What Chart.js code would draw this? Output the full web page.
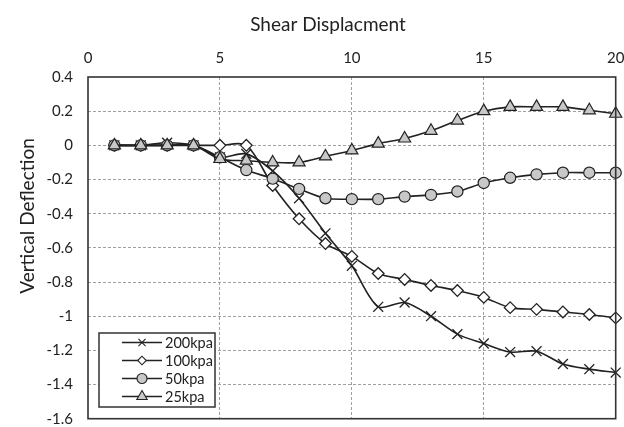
<!DOCTYPE html>
<html>
<head>
<meta charset="utf-8">
<script src="https://cdn.jsdelivr.net/npm/chart.js@4/dist/chart.umd.min.js"></script>
<style>
  html, body { margin: 0; padding: 0; background: #fff; }
  #wrap { width: 624px; height: 427px; }
</style>
</head>
<body>
<div id="wrap"><canvas id="c" width="624" height="427"></canvas></div>
<script>
// Shear displacement steps
const displacement = [1, 2, 3, 4, 5, 6, 7, 8, 9, 10, 11, 12, 13, 14, 15, 16, 17, 18, 19, 20];

// Vertical deflection for each normal stress
const kpa200 = [0, 0, 0.015, 0, -0.07, -0.05, -0.15, -0.31, -0.515, -0.705, -0.945, -0.92, -1.0, -1.105, -1.16, -1.21, -1.205, -1.28, -1.31, -1.33];
const kpa100 = [0, 0, 0, 0, 0, 0, -0.235, -0.43, -0.575, -0.65, -0.75, -0.785, -0.82, -0.85, -0.89, -0.95, -0.96, -0.975, -0.99, -1.01];
const kpa50  = [0, 0, 0, 0, -0.07, -0.145, -0.195, -0.255, -0.31, -0.315, -0.315, -0.30, -0.29, -0.27, -0.22, -0.19, -0.17, -0.16, -0.16, -0.16];
const kpa25  = [0, 0, 0, 0, -0.08, -0.09, -0.10, -0.10, -0.065, -0.03, 0.01, 0.04, 0.085, 0.145, 0.20, 0.225, 0.225, 0.225, 0.205, 0.185];

const seriesNames = ['200kpa', '100kpa', '50kpa', '25kpa'];
const xTicks = [0, 5, 10, 15, 20];
const yTicks = [0.4, 0.2, 0, -0.2, -0.4, -0.6, -0.8, -1, -1.2, -1.4, -1.6];

const FONT = 'Lato, "Open Sans", sans-serif';
const INK = '#222';
const GREY_FILL = '#c8c8c8';

const pts = arr => arr.map((v, i) => ({ x: displacement[i], y: v }));

const styles = [
  { pointStyle: 'crossRot', radius: 7, legendRadius: 5, bg: INK, lw: 1.3 },
  { pointStyle: 'rectRot', radius: 5.8, legendRadius: 4.3, bg: '#fff', lw: 1.3 },
  { pointStyle: 'circle', radius: 5.6, legendRadius: 5, bg: GREY_FILL, lw: 1.2 },
  { pointStyle: 'triangle', radius: 7, legendRadius: 6, bg: GREY_FILL, lw: 1.2 }
];
const values = [kpa200, kpa100, kpa50, kpa25];

const datasets = values.map((v, i) => ({
  label: seriesNames[i],
  data: pts(v),
  borderColor: INK,
  borderWidth: 1.6,
  tension: 0.3,
  pointStyle: styles[i].pointStyle,
  pointRadius: styles[i].radius,
  pointHoverRadius: styles[i].radius,
  pointBackgroundColor: styles[i].bg,
  pointBorderColor: INK,
  pointBorderWidth: styles[i].lw,
  order: 4 - i,
  clip: false
}));

// Frame, axis titles and the boxed legend in the lower-left corner
const decorations = {
  id: 'decorations',
  afterDatasetsDraw(chart) {
    const { ctx, chartArea: a } = chart;
    ctx.save();
    ctx.strokeStyle = '#333';
    ctx.lineWidth = 1.6;
    ctx.strokeRect(a.left, a.top, a.right - a.left, a.bottom - a.top);

    // axis titles
    ctx.fillStyle = '#222';
    ctx.font = '19px ' + FONT;
    ctx.textAlign = 'center';
    ctx.textBaseline = 'middle';
    ctx.fillText('Shear Displacment', 328, 25);
    ctx.save();
    ctx.translate(28, 216);
    ctx.rotate(-Math.PI / 2);
    ctx.fillText('Vertical Deflection', 0, 0);
    ctx.restore();

    // legend
    const bx = 99, by = 333, bw = 116, bh = 74;
    ctx.fillStyle = '#fff';
    ctx.fillRect(bx, by, bw, bh);
    ctx.strokeStyle = '#333';
    ctx.lineWidth = 1.5;
    ctx.strokeRect(bx, by, bw, bh);
    seriesNames.forEach((name, i) => {
      const y = by + 9.5 + i * 18;
      ctx.strokeStyle = INK;
      ctx.lineWidth = 1.4;
      ctx.beginPath();
      ctx.moveTo(122, y);
      ctx.lineTo(162, y);
      ctx.stroke();
      ctx.fillStyle = styles[i].bg;
      ctx.strokeStyle = INK;
      ctx.lineWidth = 1.1;
      Chart.helpers.drawPoint(ctx, {
        pointStyle: styles[i].pointStyle,
        radius: styles[i].legendRadius,
        rotation: 0,
        borderWidth: 1.1
      }, 142, y);
      ctx.fillStyle = '#222';
      ctx.font = '14.5px ' + FONT;
      ctx.textAlign = 'left';
      ctx.textBaseline = 'middle';
      ctx.fillText(name, 165, y + 1);
    });
    ctx.restore();
  }
};

new Chart(document.getElementById('c'), {
  type: 'line',
  data: { datasets },
  options: {
    responsive: false,
    animation: false,
    devicePixelRatio: 1,
    layout: { padding: { left: 0, right: 8, top: 0, bottom: 6 } },
    plugins: {
      legend: { display: false },
      tooltip: { enabled: false },
      title: { display: false }
    },
    scales: {
      x: {
        type: 'linear',
        position: 'top',
        min: 0,
        max: 20,
        afterBuildTicks: s => { s.ticks = xTicks.map(v => ({ value: v })); },
        afterFit: s => { s.height = 77; s.paddingLeft = 0; s.paddingRight = 0; },
        grid: {
          color: ctx => (ctx.tick && (ctx.tick.value === 0 || ctx.tick.value === 20)) ? 'rgba(0,0,0,0)' : '#a0a0a0',
          lineWidth: 1,
          drawTicks: false
        },
        border: { display: false, dash: [3, 2] },
        ticks: {
          padding: 10,
          color: '#222',
          font: { family: FONT, size: 15 },
          maxRotation: 0
        }
      },
      y: {
        type: 'linear',
        min: -1.6,
        max: 0.4,
        afterBuildTicks: s => { s.ticks = yTicks.map(v => ({ value: v })); },
        afterFit: s => { s.width = 88; s.paddingTop = 0; s.paddingBottom = 0; },
        grid: {
          color: ctx => (ctx.tick && (ctx.tick.value === 0.4 || ctx.tick.value === -1.6)) ? 'rgba(0,0,0,0)' : '#a0a0a0',
          lineWidth: 1,
          drawTicks: false
        },
        border: { display: false, dash: [3, 2] },
        ticks: {
          padding: 15,
          color: '#222',
          font: { family: FONT, size: 15 },
          callback: v => String(Math.round(v * 10) / 10)
        }
      }
    }
  },
  plugins: [decorations]
});
</script>
</body>
</html>
